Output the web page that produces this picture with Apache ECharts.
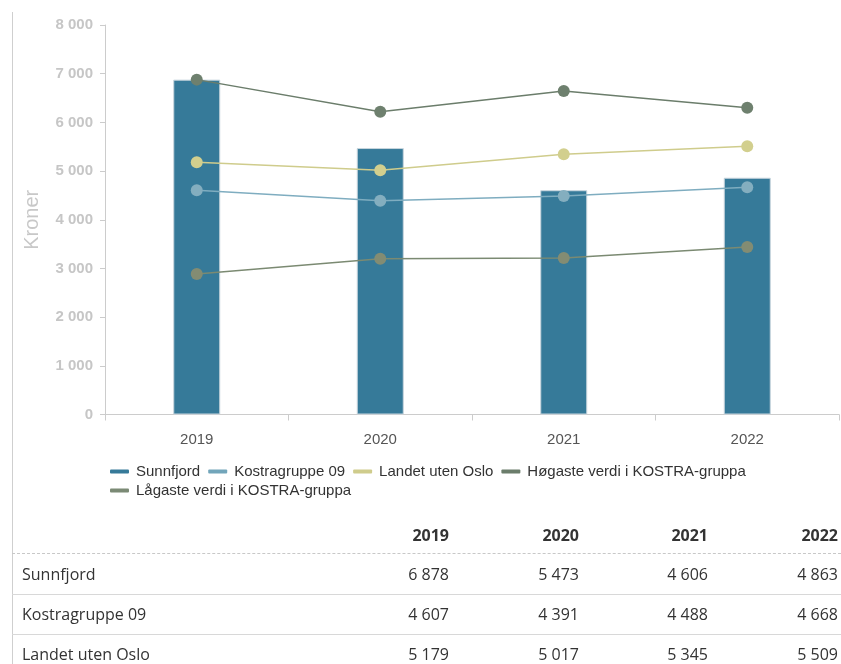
<!DOCTYPE html>
<html><head><meta charset="utf-8">
<script src="https://cdn.jsdelivr.net/npm/echarts@6/dist/echarts.min.js"></script>
<style>
html,body{margin:0;padding:0;background:#fff;}
#wrap{position:relative;width:841px;height:664px;overflow:hidden;}
#chart{position:absolute;left:0;top:0;width:841px;height:664px;}
#border{position:absolute;left:12px;top:12px;width:1px;height:652px;background:#cfcfcf;}
.cell{position:absolute;font-family:"Open Sans",sans-serif;font-size:16px;color:#333;line-height:20px;white-space:nowrap;}
.hline{position:absolute;left:12px;width:829px;height:0;}
</style></head>
<body>
<div id="wrap">
<div id="chart"></div>
<div id="border"></div>
<div id="table"></div>
</div>
<script>
const categories = ['2019', '2020', '2021', '2022'];
const sunnfjord = [6878, 5473, 4606, 4863];
const kostragruppe = [4607, 4391, 4488, 4668];
const landet = [5179, 5017, 5345, 5509];
const hogaste = [6878, 6220, 6645, 6302];
const lagaste = [2887, 3201, 3215, 3440];
const yTicks = [0, 1000, 2000, 3000, 4000, 5000, 6000, 7000, 8000];
const seriesNames = ['Sunnfjord', 'Kostragruppe 09', 'Landet uten Oslo', 'Høgaste verdi i KOSTRA-gruppa', 'Lågaste verdi i KOSTRA-gruppa'];
const tableRows = [
  ['Sunnfjord', sunnfjord],
  ['Kostragruppe 09', kostragruppe],
  ['Landet uten Oslo', landet]
];

function fmt(v, sep){ return String(v).replace(/\B(?=(\d{3})+(?!\d))/g, sep || '\u00a0'); }

const chart = echarts.init(document.getElementById('chart'), null, {renderer:'canvas'});
const lineCommon = (name, data, lineColor, markerColor) => ({
  name, type:'line', data, z:5,
  symbol:'circle', symbolSize:12,
  lineStyle:{color:lineColor, width:1.5},
  itemStyle:{color:markerColor},
  emphasis:{disabled:true}
});
const F = 'Arial, "Liberation Sans", sans-serif';
const iconColors = ['#367a99', '#72a5ba', '#cfcc8c', '#6b7d6b', '#7b8a75'];
const legendBase = {
  left:105, itemWidth:19, itemHeight:4, itemGap:8, icon:'roundRect', orient:'horizontal',
  itemStyle:{borderWidth:0},
  textStyle:{fontFamily:F, fontSize:15, color:'#333', padding:[0,0,0,2]}
};
chart.setOption({
  animation:false,
  grid:{left:105, right:2, top:25, bottom:249.5, containLabel:false},
  legend:[
    Object.assign({}, legendBase, {top:459, data:seriesNames.slice(0,4).map((n,i)=>({name:n, itemStyle:{color:iconColors[i]}}))}),
    Object.assign({}, legendBase, {top:478, data:seriesNames.slice(4).map((n,i)=>({name:n, itemStyle:{color:iconColors[i+4]}}))})
  ],
  xAxis:{
    type:'category', data:categories, boundaryGap:true,
    axisLine:{lineStyle:{color:'#cccccc', width:1}},
    axisTick:{show:true, length:6, lineStyle:{color:'#cccccc'}},
    axisLabel:{color:'#555', fontFamily:F, fontSize:15, margin:18}
  },
  yAxis:{
    type:'value', min:yTicks[0], max:yTicks[yTicks.length-1], interval:1000,
    name:'Kroner', nameLocation:'middle', nameGap:63, nameRotate:90,
    nameTextStyle:{color:'#c8c8c8', fontSize:20, fontFamily:F},
    axisLine:{show:true, lineStyle:{color:'#cccccc', width:1}},
    axisTick:{show:true, length:5, lineStyle:{color:'#cccccc'}},
    splitLine:{show:false},
    axisLabel:{color:'#c6c6c6', fontWeight:'bold', fontFamily:F, fontSize:15, margin:12,
      formatter:v=>fmt(v)}
  },
  series:[
    {name:seriesNames[0], type:'bar', data:sunnfjord, barWidth:47, z:2,
      itemStyle:{color:'#367a99', borderColor:'#c9d6de', borderWidth:1}},
    lineCommon(seriesNames[1], kostragruppe, '#7fadc0', '#84aebf'),
    lineCommon(seriesNames[2], landet, '#cfcc8c', '#d2cf8e'),
    lineCommon(seriesNames[3], hogaste, '#6b7d6b', '#6e806e'),
    lineCommon(seriesNames[4], lagaste, '#7b8a72', '#838c73')
  ]
});

// Data table
const t = document.getElementById('table');
const colRight = [449, 579, 708, 838];
function addCell(text, x, yc, align, bold){
  const d = document.createElement('div');
  d.className = 'cell';
  d.textContent = text;
  d.style.top = (yc - 10) + 'px';
  if (align === 'right') { d.style.right = (841 - x) + 'px'; }
  else { d.style.left = x + 'px'; }
  if (bold) d.style.fontWeight = 'bold';
  t.appendChild(d);
}
function addLine(y, style){
  const d = document.createElement('div');
  d.className = 'hline';
  d.style.top = y + 'px';
  d.style.borderTop = style;
  t.appendChild(d);
}
categories.forEach((c,i)=>addCell(c, colRight[i], 535, 'right', true));
addLine(553, '1px dashed #c8c8c8');
const rowY = [574, 614, 654];
tableRows.forEach((r, ri)=>{
  addCell(r[0], 22, rowY[ri], 'left', false);
  r[1].forEach((v,i)=>addCell(fmt(v, '\u00a0'), colRight[i], rowY[ri], 'right', false));
  if (ri < tableRows.length - 1) addLine(rowY[ri] + 20, '1px solid #d8d8d8');
});
</script>
</body></html>
